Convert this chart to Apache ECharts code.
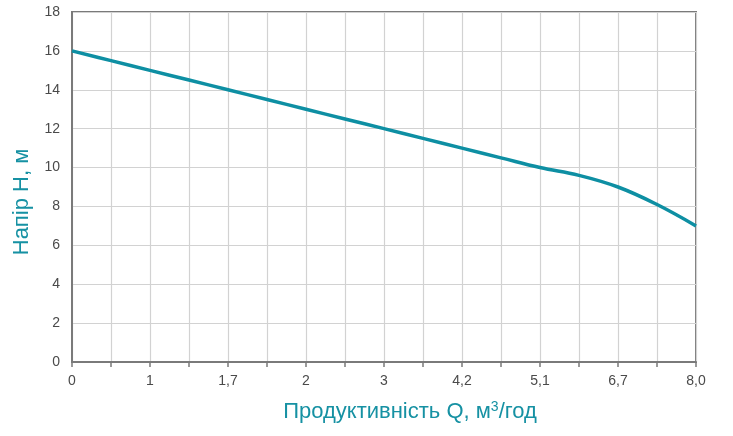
<!DOCTYPE html>
<html>
<head>
<meta charset="utf-8">
<script src="https://cdn.jsdelivr.net/npm/echarts@6/dist/echarts.min.js"></script>
<style>
html,body{margin:0;padding:0;background:#fff;}
#c{width:733px;height:436px;}
</style>
</head>
<body>
<div id="c"></div>
<script>
var categories = ['0','','1','','1,7','','2','','3','','4,2','','5,1','','6,7','','8,0'];
var headValues = [16,15.5,15,14.5,14,13.5,13,12.5,12,11.5,11,10.5,10,9.6,9.0,8.1,7.0];
var yTicks = {min:0, max:18, interval:2};

var chart = echarts.init(document.getElementById('c'));
var font = 'Liberation Sans, Arial, sans-serif';
chart.setOption({
  animation:false,
  grid:{left:72,right:37,top:12,bottom:74,show:true,borderColor:'#7a7a7a',borderWidth:2,backgroundColor:'transparent'},
  xAxis:{
    type:'category',
    data:categories,
    boundaryGap:false,
    axisLine:{lineStyle:{color:'#7a7a7a',width:2}},
    axisTick:{show:true,interval:0,length:5,lineStyle:{color:'#7a7a7a',width:1.5}},
    axisLabel:{interval:0,color:'#4a4a4a',fontSize:14,fontFamily:font,margin:12},
    splitLine:{show:true,interval:0,lineStyle:{color:'#d2d2d2',width:1.2}},
    name:'Продуктивність Q, м{sup|3}/год',
    nameLocation:'middle',
    nameGap:38,
    nameTextStyle:{color:'#1691a3',fontSize:22,fontFamily:font,padding:[0,0,0,52],
      rich:{sup:{fontSize:14,color:'#1691a3',fontFamily:font,verticalAlign:'top',padding:[0,0,10,0]}}}
  },
  yAxis:{
    type:'value',
    min:yTicks.min,max:yTicks.max,interval:yTicks.interval,
    axisLine:{show:true,lineStyle:{color:'#7a7a7a',width:2}},
    axisTick:{show:false},
    axisLabel:{color:'#4a4a4a',fontSize:14,fontFamily:font,margin:12},
    splitLine:{show:true,lineStyle:{color:'#d2d2d2',width:1.2}},
    name:'Напір H, м',
    nameLocation:'middle',
    nameGap:39,
    nameTextStyle:{color:'#1691a3',fontSize:22,fontFamily:font,padding:[0,30,0,0]}
  },
  series:[{
    type:'line',
    data:headValues,
    smooth:0.4,
    symbol:'none',
    lineStyle:{color:'#0e8fa3',width:3.5}
  }]
});
</script>
</body>
</html>
